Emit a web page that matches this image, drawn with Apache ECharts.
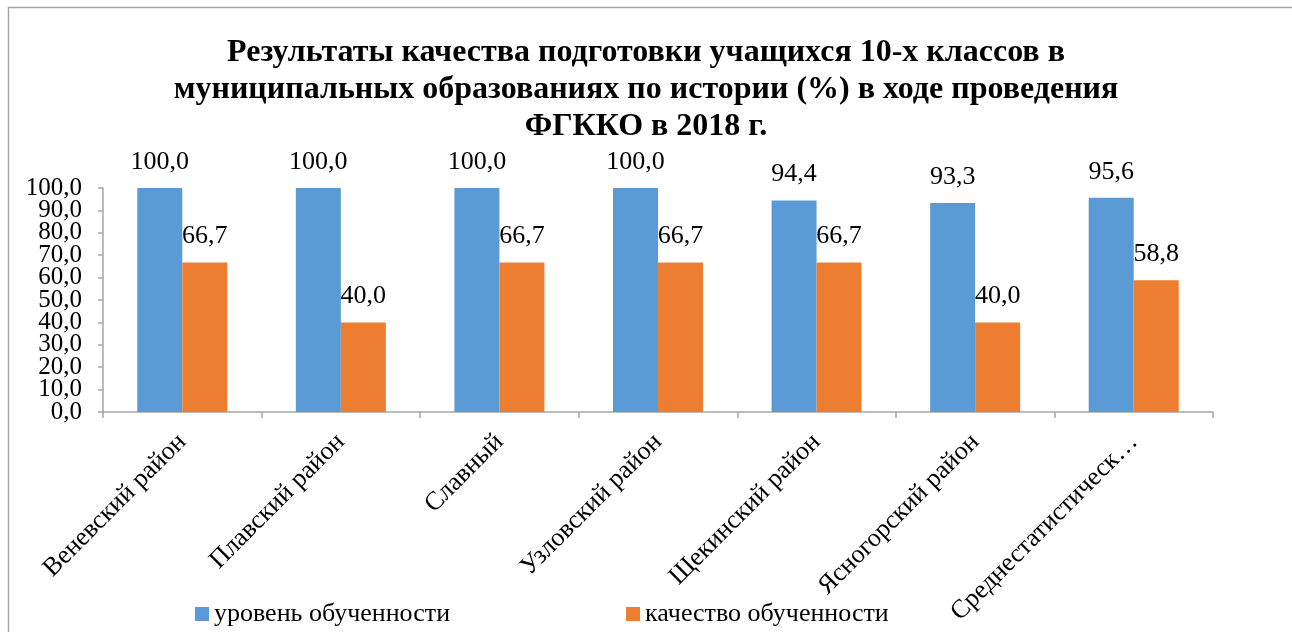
<!DOCTYPE html>
<html><head><meta charset="utf-8">
<script src="https://cdn.jsdelivr.net/npm/echarts@6/dist/echarts.min.js"></script>
<style>html,body{margin:0;padding:0;background:#fff}#c{width:1292px;height:632px}</style>
</head><body><div id="c"></div>
<script>
const categories = ["Веневский район","Плавский район","Славный","Узловский район","Щекинский район","Ясногорский район","Среднестатистическ…"];
const seriesNames = ["уровень обученности","качество обученности"];
const levelValues = [100.0,100.0,100.0,100.0,94.4,93.3,95.6];
const qualityValues = [66.7,40.0,66.7,66.7,66.7,40.0,58.8];
const titleText = "Результаты качества подготовки учащихся 10-х классов в\nмуниципальных образованиях по истории (%) в ходе проведения\nФГККО в 2018 г.";

const font = "Liberation Serif";
const fmt = v => Number(v).toFixed(1).replace('.', ',');
const evenFmt = v => (Math.round(v) % 20 === 0 ? fmt(v) : '');
const oddFmt = v => (Math.round(v) % 20 === 10 ? fmt(v) : '');
const yLabelStyle = {fontFamily:font,fontSize:25,lineHeight:18,color:'#000',margin:21,hideOverlap:false,showMinLabel:true,showMaxLabel:true};
const chart = echarts.init(document.getElementById('c'), null, {renderer:'canvas'});
chart.setOption({
  animation:false,
  backgroundColor:'#fff',
  graphic:[{type:'rect',shape:{x:8.5,y:7.5,width:1400,height:800},style:{fill:'none',stroke:'#a6a6a6',lineWidth:1.5},silent:true}],
  title:{text:titleText,left:'center',top:29,textStyle:{fontFamily:font,fontWeight:'bold',fontSize:32,lineHeight:37,color:'#000'}},
  grid:{left:103,right:79,top:188,bottom:220,containLabel:false},
  legend:{top:596,left:190,itemWidth:14,itemHeight:14,itemGap:176,icon:'rect',
    textStyle:{fontFamily:font,fontSize:26,color:'#000'},data:seriesNames},
  xAxis:{type:'category',data:categories,
    axisLine:{lineStyle:{color:'#a6a6a6',width:1.5}},
    axisTick:{show:true,length:6,alignWithLabel:false,lineStyle:{color:'#a6a6a6',width:1.5}},
    axisLabel:{interval:0,rotate:45,fontFamily:font,fontSize:26,color:'#000',margin:26}},
  yAxis:[
    {type:'value',min:0,max:100,interval:10,position:'left',offset:0,
     axisLine:{show:true,lineStyle:{color:'#a6a6a6',width:1.5}},
     axisTick:{show:true,length:5,lineStyle:{color:'#a6a6a6',width:1.5}},
     splitLine:{show:false},
     axisLabel:Object.assign({formatter:evenFmt},yLabelStyle)},
    {type:'value',min:0,max:100,interval:10,position:'left',offset:0,
     axisLine:{show:false},axisTick:{show:false},splitLine:{show:false},
     axisLabel:Object.assign({formatter:oddFmt},yLabelStyle)}
  ],
  series:[
    {name:seriesNames[0],type:'bar',yAxisIndex:0,data:levelValues,barWidth:45,barGap:'0%',itemStyle:{color:'#5b9bd5'},
     label:{show:true,position:'top',distance:13,fontFamily:font,fontSize:26,color:'#000',formatter:p=>fmt(p.value)}},
    {name:seriesNames[1],type:'bar',yAxisIndex:0,data:qualityValues,barWidth:45,itemStyle:{color:'#ed7d31'},
     label:{show:true,position:'top',distance:13,fontFamily:font,fontSize:26,color:'#000',formatter:p=>fmt(p.value)}}
  ]
});
</script></body></html>
